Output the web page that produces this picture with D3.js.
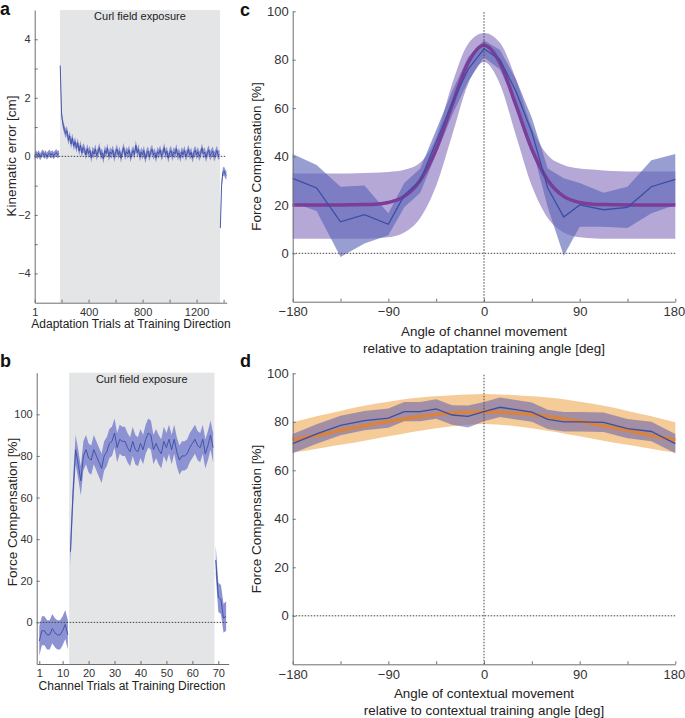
<!DOCTYPE html>
<html>
<head>
<meta charset="utf-8">
<script src="https://cdn.jsdelivr.net/npm/d3@7"></script>
<style>
body { margin: 0; background: #fff; }
svg { font-family: "Liberation Sans", Arial, sans-serif; }
</style>
</head>
<body>
<script>
// ---- panel a: kinematic error per adaptation trial ----
var curlTrialsA = [188, 1373];
var errPreStart = 1, errPreStep = 10;
var errPre = [0.0, 0.08, 0.02, 0.1, -0.02, 0.06, 0.12, 0.03, 0.09, 0.0, 0.07, 0.11, 0.04, 0.1, 0.02, 0.08, 0.13, 0.05, 0.1];
var errPreSem = 0.12;
var errExpStart = 190, errExpStep = 10;
var errExp = [3.1, 1.45, 1.1, 0.92, 0.78, 0.88, 0.55, 0.7, 0.42, 0.62,
  0.36, 0.5, 0.28, 0.46, 0.18, 0.38, 0.12, 0.3, 0.22, 0.05,
  0.26, 0.1, 0.2, -0.05, 0.18, 0.08, 0.25, 0.02, 0.15, 0.3,
  0.05, 0.12, -0.08, 0.2, 0.1, 0.28, 0.0, 0.15, 0.08, 0.22,
  -0.03, 0.12, 0.25, 0.05, 0.18, -0.06, 0.14, 0.3, 0.02, 0.16,
  0.08, 0.22, -0.04, 0.1, 0.2, 0.06, 0.38, 0.12, 0.25, -0.02,
  0.15, 0.05, 0.2, -0.08, 0.1, 0.18, 0.0, 0.14, 0.24, 0.04,
  0.12, -0.05, 0.16, 0.08, 0.22, 0.02, 0.1, 0.3, 0.06, 0.18,
  -0.06, 0.12, 0.2, 0.0, 0.15, 0.08, 0.26, 0.03, 0.12, -0.04,
  0.16, 0.06, 0.2, 0.0, 0.1, 0.24, 0.04, 0.14, -0.06, 0.12,
  0.2, 0.05, 0.16, 0.0, 0.1, 0.28, 0.08, 0.15, -0.04, 0.12,
  0.22, 0.02, 0.1, 0.18, -0.02, 0.08, 0.2, 0.04, 0.06];
var errExpSem = 0.16;
var errPostTrials = [1376, 1385, 1394, 1403, 1412, 1421];
var errPost = [-2.45, -1.0, -0.55, -0.5, -0.6, -0.65];
var errPostSem = 0.15;

// ---- panel b: force compensation per channel trial ----
var curlTrialsB = [12.5, 68.5];
var fcPre = [-9, -4, -4, -6, -6, -3, -5, -6, -6, -4, -1, -6];
var fcExp = [34, 62, 83, 76, 68, 80, 83, 79, 78, 83, 80, 77, 74, 80, 82, 86, 87, 91, 84, 88,
  87, 87, 84, 82, 87, 83, 82, 86, 83, 88, 91, 90, 83, 86, 83, 81, 87, 84, 88, 83,
  88, 82, 78, 80, 80, 81, 84, 86, 88, 85, 84, 88, 81, 85, 90, 84];
var fcPost = [30, 12, 11, 2, 3];
var fcSem = 7;

// ---- panel c / d: generalisation across angles ----
var angles = [-180, -157.5, -135, -112.5, -90, -75, -60, -45, -30, -15, 0, 15, 30, 45, 60, 75, 90, 112.5, 135, 157.5, 180];
var meanC = [31, 27, 13, 16, 12, 24, 30, 46, 62, 76, 84.5, 80, 67, 50, 27, 15, 20, 18, 19, 27.5, 30.5];
var semC = [10, 9.5, 14.5, 12, 4.5, 5, 5, 5, 5, 5, 3.5, 4, 5, 6, 8, 16, 9, 7, 8.5, 11, 10.5];
var meanD = [71, 75, 78.5, 80.5, 81.5, 84.2, 84.2, 85.3, 82.8, 82.2, 84.2, 86, 85, 84, 81, 80, 80, 79.8, 77.2, 76, 71];
var semD = [4, 4, 4, 4, 4, 4, 4, 4, 4, 4.5, 4, 4, 4, 4, 4, 4, 4, 4, 4, 4, 4];

var fitAngles = [-180, -165, -150, -135, -120, -105, -90, -75, -60, -45, -30, -15, 0, 15, 30, 45, 60, 75, 90, 105, 120, 135, 150, 165, 180];
var fitC = [20, 20, 20, 20, 20.1, 20.2, 21, 23.5, 30.2, 43, 61.3, 78.7, 86, 78.7, 61.3, 43, 30.2, 23.5, 21, 20.2, 20.1, 20, 20, 20, 20];
var fitCUpper = [33, 33, 33, 33, 33.1, 33.3, 33.6, 34.5, 37.5, 48, 70, 86.5, 91, 87, 72, 52, 40.5, 36.5, 35, 34.5, 34, 33.8, 33.8, 33.8, 33.8];
var fitCLower = [6, 6, 6, 6, 6, 6.1, 6.6, 8.6, 14.6, 27.9, 48.8, 69.9, 79, 69.9, 48.8, 27.9, 14.6, 8.6, 6.6, 6.1, 6, 6, 6, 6, 6];
var fitD = [72.5, 73.8, 75, 76.5, 77.7, 79, 80.2, 81.2, 82.2, 83, 83.6, 83.9, 84, 83.9, 83.6, 83, 82.2, 81.2, 80.2, 79, 77.7, 76.5, 75, 73.8, 72.5];
var fitDUpper = [79.8, 81.5, 83, 84.5, 86, 87.2, 88.3, 89.3, 90, 90.5, 91, 91.3, 91.5, 91.3, 91, 90.5, 90, 89.3, 88.3, 87.2, 86, 84.5, 83, 81.5, 79.8];
var fitDLower = [67.3, 68.3, 69.4, 70.5, 71.6, 72.8, 74, 75.2, 76.3, 77.3, 78.2, 78.8, 79.1, 78.8, 78.2, 77.3, 76.3, 75.2, 74, 72.8, 71.6, 70.5, 69.4, 68.3, 67.3];

// colours
var grayBg = "#e4e5e7";
var bandBlue = "#8c92d2";
var lineBlue = "#3b4ea3";
var axisCol = "#6e6e6e";
var textCol = "#333";

var svg = d3.select("body").append("svg")
  .attr("width", 685)
  .attr("height", 718);

var fmt = d3.format("d");

// axes with inward ticks (matlab style)
function addAxes(x, y, xTicks, xLab, yTicks, yLab, fs) {
  var gx = svg.append("g")
    .attr("transform", "translate(0," + y.range()[0] + ")")
    .call(d3.axisBottom(x).tickValues(xTicks).tickSize(-3).tickSizeOuter(0).tickPadding(5.5)
      .tickFormat(function (d) { return xLab.indexOf(d) >= 0 ? fmt(d) : ""; }));
  var gy = svg.append("g")
    .attr("transform", "translate(" + x.range()[0] + ",0)")
    .call(d3.axisLeft(y).tickValues(yTicks).tickSize(-3).tickSizeOuter(0).tickPadding(4)
      .tickFormat(function (d) { return yLab.indexOf(d) >= 0 ? fmt(d) : ""; }));
  [gx, gy].forEach(function (g) {
    g.select(".domain").attr("stroke", axisCol);
    g.selectAll(".tick line").attr("stroke", axisCol);
    g.selectAll("text").attr("fill", textCol).style("font-size", fs + "px")
      .style("font-family", "Liberation Sans, Arial, sans-serif");
  });
  return gx;
}

function dotted(x1, y1, x2, y2) {
  svg.append("line")
    .attr("x1", x1).attr("y1", y1).attr("x2", x2).attr("y2", y2)
    .attr("stroke", "#444").attr("stroke-width", 1)
    .attr("stroke-dasharray", "1.5,1.5");
}

function label(txt, x, y, fs, rot) {
  var t = svg.append("text").text(txt)
    .attr("text-anchor", "middle")
    .attr("fill", "#222")
    .style("font-size", fs + "px");
  if (rot) t.attr("transform", "translate(" + x + "," + y + ") rotate(-90)");
  else t.attr("x", x).attr("y", y);
  return t;
}

function letter(txt, x, y) {
  svg.append("text").text(txt).attr("x", x).attr("y", y)
    .style("font-size", "18px").style("font-weight", "bold").attr("fill", "#111");
}

function bandAndLine(pts, x, y, bandCol, bandOp, lineCol, lineW) {
  var area = d3.area()
    .x(function (d) { return x(d.t); })
    .y0(function (d) { return y(d.m - d.s); })
    .y1(function (d) { return y(d.m + d.s); });
  var line = d3.line()
    .x(function (d) { return x(d.t); })
    .y(function (d) { return y(d.m); });
  svg.append("path").datum(pts).attr("d", area)
    .attr("fill", bandCol).attr("fill-opacity", bandOp);
  svg.append("path").datum(pts).attr("d", line)
    .attr("fill", "none").attr("stroke", lineCol).attr("stroke-width", lineW);
}

// ================= panel a =================
var xA = d3.scaleLinear().domain([1, 1423]).range([34.7, 226.7]);
var yA = d3.scaleLinear().domain([-5, 5]).range([302.7, 10]);

svg.append("rect")
  .attr("x", xA(curlTrialsA[0])).attr("y", yA(5))
  .attr("width", xA(curlTrialsA[1]) - xA(curlTrialsA[0]))
  .attr("height", yA(-5) - yA(5))
  .attr("fill", grayBg);
label("Curl field exposure", (xA(curlTrialsA[0]) + xA(curlTrialsA[1])) / 2, 20, 11);

var ptsPre = errPre.map(function (m, i) { return { t: errPreStart + i * errPreStep, m: m, s: errPreSem }; });
var ptsExp = errExp.map(function (m, i) { return { t: errExpStart + i * errExpStep, m: m, s: errExpSem }; });
var ptsPost = errPost.map(function (m, i) { return { t: errPostTrials[i], m: m, s: errPostSem }; });
[ptsPre, ptsExp, ptsPost].forEach(function (p) { bandAndLine(p, xA, yA, bandBlue, 1, lineBlue, 0.9); });

dotted(xA.range()[0], yA(0), xA.range()[1], yA(0));
addAxes(xA, yA, [1, 200, 400, 600, 800, 1000, 1200, 1400], [1, 400, 800, 1200],
  [-4, -3, -2, -1, 0, 1, 2, 3, 4], [-4, -2, 0, 2, 4], 11);
label("Adaptation Trials at Training Direction", 131, 328, 12);
label("Kinematic error [cm]", 16, 156, 13.5, true);
letter("a", 0, 15);

// ================= panel b =================
var xB = d3.scaleLinear().domain([0, 74]).range([36.7, 228.7]);
var yB = d3.scaleLinear().domain([-20, 120]).range([664, 372.7]);

svg.append("rect")
  .attr("x", xB(curlTrialsB[0])).attr("y", yB(120))
  .attr("width", xB(curlTrialsB[1]) - xB(curlTrialsB[0]))
  .attr("height", yB(-20) - yB(120))
  .attr("fill", grayBg);
label("Curl field exposure", (xB(curlTrialsB[0]) + xB(curlTrialsB[1])) / 2, 383, 11);

var bPre = fcPre.map(function (m, i) { return { t: i + 1, m: m, s: fcSem }; });
var bExp = fcExp.map(function (m, i) { return { t: i + 1 + fcPre.length, m: m, s: fcSem }; });
var bPost = fcPost.map(function (m, i) { return { t: i + 1 + fcPre.length + fcExp.length, m: m, s: fcSem }; });
[bPre, bExp, bPost].forEach(function (p) { bandAndLine(p, xB, yB, bandBlue, 1, lineBlue, 0.9); });

dotted(xB.range()[0], yB(0), xB.range()[1], yB(0));
addAxes(xB, yB, [1, 10, 20, 30, 40, 50, 60, 70], [1, 10, 20, 30, 40, 50, 60, 70],
  [0, 20, 40, 60, 80, 100], [0, 20, 40, 60, 80, 100], 11);
label("Channel Trials at Training Direction", 132, 690, 12);
label("Force Compensation [%]", 17, 512, 13.5, true);
letter("b", 0, 367);

// ================= panel c / d common =================
function genPanel(yTop, yBot, mean, sem, fit, fitUp, fitLo, fitBand, fitLine, bandC, bandOp) {
  var x = d3.scaleLinear().domain([-180, 180]).range([292.7, 675.3]);
  var y = d3.scaleLinear().domain([-20, 100]).range([yBot, yTop]);
  var fitPts = fitAngles.map(function (a, i) { return { a: a, m: fit[i], hi: fitUp[i], lo: fitLo[i] }; });
  svg.append("path").datum(fitPts)
    .attr("d", d3.area().curve(d3.curveMonotoneX)
      .x(function (d) { return x(d.a); })
      .y0(function (d) { return y(d.lo); })
      .y1(function (d) { return y(d.hi); }))
    .attr("fill", fitBand);
  var pts = angles.map(function (a, i) { return { t: a, m: mean[i], s: sem[i] }; });
  svg.append("path").datum(pts)
    .attr("d", d3.area()
      .x(function (d) { return x(d.t); })
      .y0(function (d) { return y(d.m - d.s); })
      .y1(function (d) { return y(d.m + d.s); }))
    .attr("fill", bandC).attr("fill-opacity", bandOp);
  svg.append("path").datum(fitPts)
    .attr("d", d3.line().curve(d3.curveMonotoneX)
      .x(function (d) { return x(d.a); })
      .y(function (d) { return y(d.m); }))
    .attr("fill", "none").attr("stroke", fitLine).attr("stroke-width", 3.5);
  svg.append("path").datum(pts)
    .attr("d", d3.line()
      .x(function (d) { return x(d.t); })
      .y(function (d) { return y(d.m); }))
    .attr("fill", "none").attr("stroke", lineBlue).attr("stroke-width", 1.3);
  dotted(x.range()[0], y(0), x.range()[1], y(0));
  dotted(x(0), y(-20), x(0), y(100));
  var gx = addAxes(x, y, [-180, -135, -90, -45, 0, 45, 90, 135, 180], [-180, -90, 0, 90, 180],
    [0, 20, 40, 60, 80, 100], [0, 20, 40, 60, 80, 100], 13);
  // last label sits against the page edge, as in the original
  gx.selectAll(".tick text").filter(function (d) { return d === 180; })
    .attr("text-anchor", "end").attr("x", 9.5);
  return { x: x, y: y };
}

// ================= panel c =================
genPanel(11.3, 301.7, meanC, semC, fitC, fitCUpper, fitCLower, "#b5a8d7", "#7b3d98", "#5a62b6", 0.62);
label("Angle of channel movement", 484, 336, 13.4);
label("relative to adaptation training angle [deg]", 484, 352.5, 13.4);
label("Force Compensation [%]", 261, 156.5, 13.5, true);
letter("c", 240, 16);

// ================= panel d =================
genPanel(373.3, 664.3, meanD, semD, fitD, fitDUpper, fitDLower, "#f5cb98", "#d8843f", "#6a68ae", 0.6);
label("Angle of contextual movement", 484, 698, 13.4);
label("relative to contextual training angle [deg]", 484, 714.5, 13.4);
label("Force Compensation [%]", 261, 519, 13.5, true);
letter("d", 240, 367);
</script>
</body>
</html>
